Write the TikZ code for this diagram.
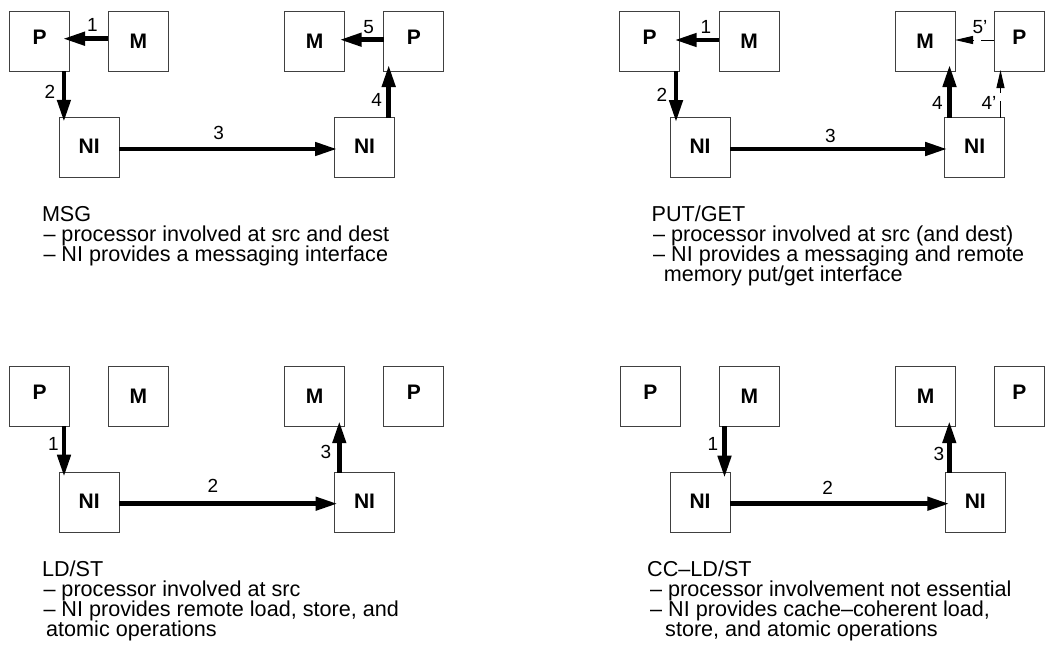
\documentclass[tikz,border=0pt]{standalone}
\usepackage{fontspec}
\setmainfont{Liberation Sans}
\usetikzlibrary{arrows.meta,calc}
\tikzset{
  box/.style={draw=black!75, line width=0.8pt, minimum width=60pt, minimum height=60pt,
    inner sep=0pt, outer sep=0pt, font=\fontsize{21}{24}\selectfont\bfseries},
  pbox/.style={box, text depth=7pt},
  pedge/.style={pbox, minimum width=50pt},
  nibox/.style={box, text depth=3pt},
  fatarrow/.style={line width=4.5pt, -{Triangle[length=22pt,width=13pt]}},
  thinarrow/.style={line width=1pt, -{Triangle[length=18pt,width=8pt]}},
  num/.style={font=\fontsize{19}{22}\selectfont, inner sep=0pt},
  desc/.style={font=\fontsize{21.6}{24}\selectfont, anchor=base west, inner sep=0pt}
}
\begin{document}
\begin{tikzpicture}[x=1pt,y=-1pt]
\useasboundingbox (0,0) rectangle (1045,645);
% ---------- panel A: MSG ----------
\node[pbox]  (P1) at (39.7,41) {P};
\node[box]   (M1) at (138.3,41) {M};
\node[box]   (M2) at (314.7,41) {M};
\node[pbox]  (P2) at (413.8,41) {P};
\node[nibox] (N1) at (89.2,147.8) {NI};
\node[nibox] (N2) at (364.5,147.8) {NI};
\draw[fatarrow] ($(M1.west)+(0,-2.3)$) -- ($(P1.east)+(-6.7,-2.3)$);
\draw[fatarrow] ($(P1.south east)+(-5.8,0)$) -- ($(N1.north west)+(4.7,4)$);
\draw[fatarrow] ($(N1.east)+(0,1.2)$) -- ($(N2.west)+(2.5,1.2)$);
\draw[fatarrow] ($(N2.north east)+(-5.8,0)$) -- ($(P2.south west)+(4.9,-6)$);
\draw[fatarrow] ($(P2.west)+(0,-1.3)$) -- ($(M2.east)+(-5,-1.3)$);
\node[num] (a1) at (92.5,25) {1};
\node[num] (a2) at (50,91.7) {2};
\node[num] (a3) at (218.7,133) {3};
\node[num] (a4) at (376.7,100) {4};
\node[num] (a5) at (368.7,27) {5};
\node[desc] (ta1) at (41.8,221.7) {MSG};
\node[desc] (ta2) at (43.3,241.7) {– processor involved at src and dest};
\node[desc] (ta3) at (43.3,261.7) {– NI provides a messaging interface};
% ---------- panel B: PUT/GET ----------
\node[pbox]  (P3) at (649.7,41) {P};
\node[box]   (M3) at (749.2,41) {M};
\node[box]   (M4) at (925,41) {M};
\node[pedge] (P4) at (1019.3,41) {P};
\node[nibox] (N3) at (700,147.8) {NI};
\node[nibox] (N4) at (974.7,147.8) {NI};
\draw[fatarrow] ($(M3.west)+(0,-1)$) -- ($(P3.east)+(-5,-1)$);
\draw[fatarrow] ($(P3.south east)+(-3.7,0)$) -- ($(N3.north west)+(6,4.3)$);
\draw[fatarrow] ($(N3.east)+(0,1.2)$) -- ($(N4.west)+(2.4,1.2)$);
\draw[fatarrow] ($(N4.north west)+(4.8,0)$) -- ($(M4.south east)+(-5.5,-6)$);
\draw[thinarrow, dash pattern=on 17pt off 8pt] ($(N4.north east)+(-4.2,0)$) -- ($(P4.south west)+(6.2,-1)$);
\draw[thinarrow, dash pattern=on 13pt off 8pt] ($(P4.west)+(0,-1)$) -- ($(M4.east)+(0,-1)$);
\node[num] (b1) at (705.8,27) {1};
\node[num] (b2) at (662,95) {2};
\node[num] (b3) at (830.5,135.5) {3};
\node[num] (b4) at (937.5,102.5) {4};
\node[num] (b4p) at (989,102.5) {4'};
\node[num] (b5p) at (980,27) {5'};
\node[desc] (tb1) at (651.5,221.7) {PUT/GET};
\node[desc] (tb2) at (653,241.7) {– processor involved at src (and dest)};
\node[desc] (tb3) at (653,261.7) {– NI provides a messaging and remote};
\node[desc] (tb4) at (663.6,281.5) {memory put/get interface};
% ---------- panel C: LD/ST ----------
\node[pbox]  (P5) at (39.7,396.2) {P};
\node[box]   (M5) at (138.3,396.2) {M};
\node[box]   (M6) at (314.7,396.2) {M};
\node[pbox]  (P6) at (413.8,396.2) {P};
\node[nibox] (N5) at (89.2,502.7) {NI};
\node[nibox] (N6) at (364.5,502.7) {NI};
\draw[fatarrow] ($(P5.south east)+(-5.7,0)$) -- ($(N5.north west)+(4.8,4)$);
\draw[fatarrow] ($(N5.east)+(0,1)$) -- ($(N6.west)+(3,1)$);
\draw[fatarrow] ($(N6.north west)+(4.8,0)$) -- ($(M6.south east)+(-5.4,-5)$);
\node[num] (c1) at (53.3,444) {1};
\node[num] (c2) at (213,486) {2};
\node[num] (c3) at (326,451.7) {3};
\node[desc] (tc1) at (41.8,576.7) {LD/ST};
\node[desc] (tc2) at (43.3,596.7) {– processor involved at src};
\node[desc] (tc3) at (43.3,616.7) {– NI provides remote load, store, and};
\node[desc] (tc4) at (46,636.5) {atomic operations};
% ---------- panel D: CC-LD/ST ----------
\node[pbox]  (P7) at (650.3,396.2) {P};
\node[box]   (M7) at (749.3,396.2) {M};
\node[box]   (M8) at (925.7,396.2) {M};
\node[pedge] (P8) at (1019.3,396.2) {P};
\node[nibox] (N7) at (700,502.7) {NI};
\node[nibox] (N8) at (975.3,502.7) {NI};
\draw[fatarrow] ($(M7.south west)+(5.2,0)$) -- ($(N7.north east)+(-5.5,5)$);
\draw[fatarrow] ($(N7.east)+(0,1)$) -- ($(N8.west)+(4,1)$);
\draw[fatarrow] ($(N8.north west)+(4,0)$) -- ($(M8.south east)+(-6.4,-5)$);
\node[num] (d1) at (713,444) {1};
\node[num] (d2) at (827.7,487.8) {2};
\node[num] (d3) at (939,454) {3};
\node[desc] (td1) at (647,576.7) {CC–LD/ST};
\node[desc] (td2) at (650,596.7) {– processor involvement not essential};
\node[desc] (td3) at (650,616.7) {– NI provides cache–coherent load,};
\node[desc] (td4) at (665,636.5) {store, and atomic operations};
\end{tikzpicture}
\end{document}
